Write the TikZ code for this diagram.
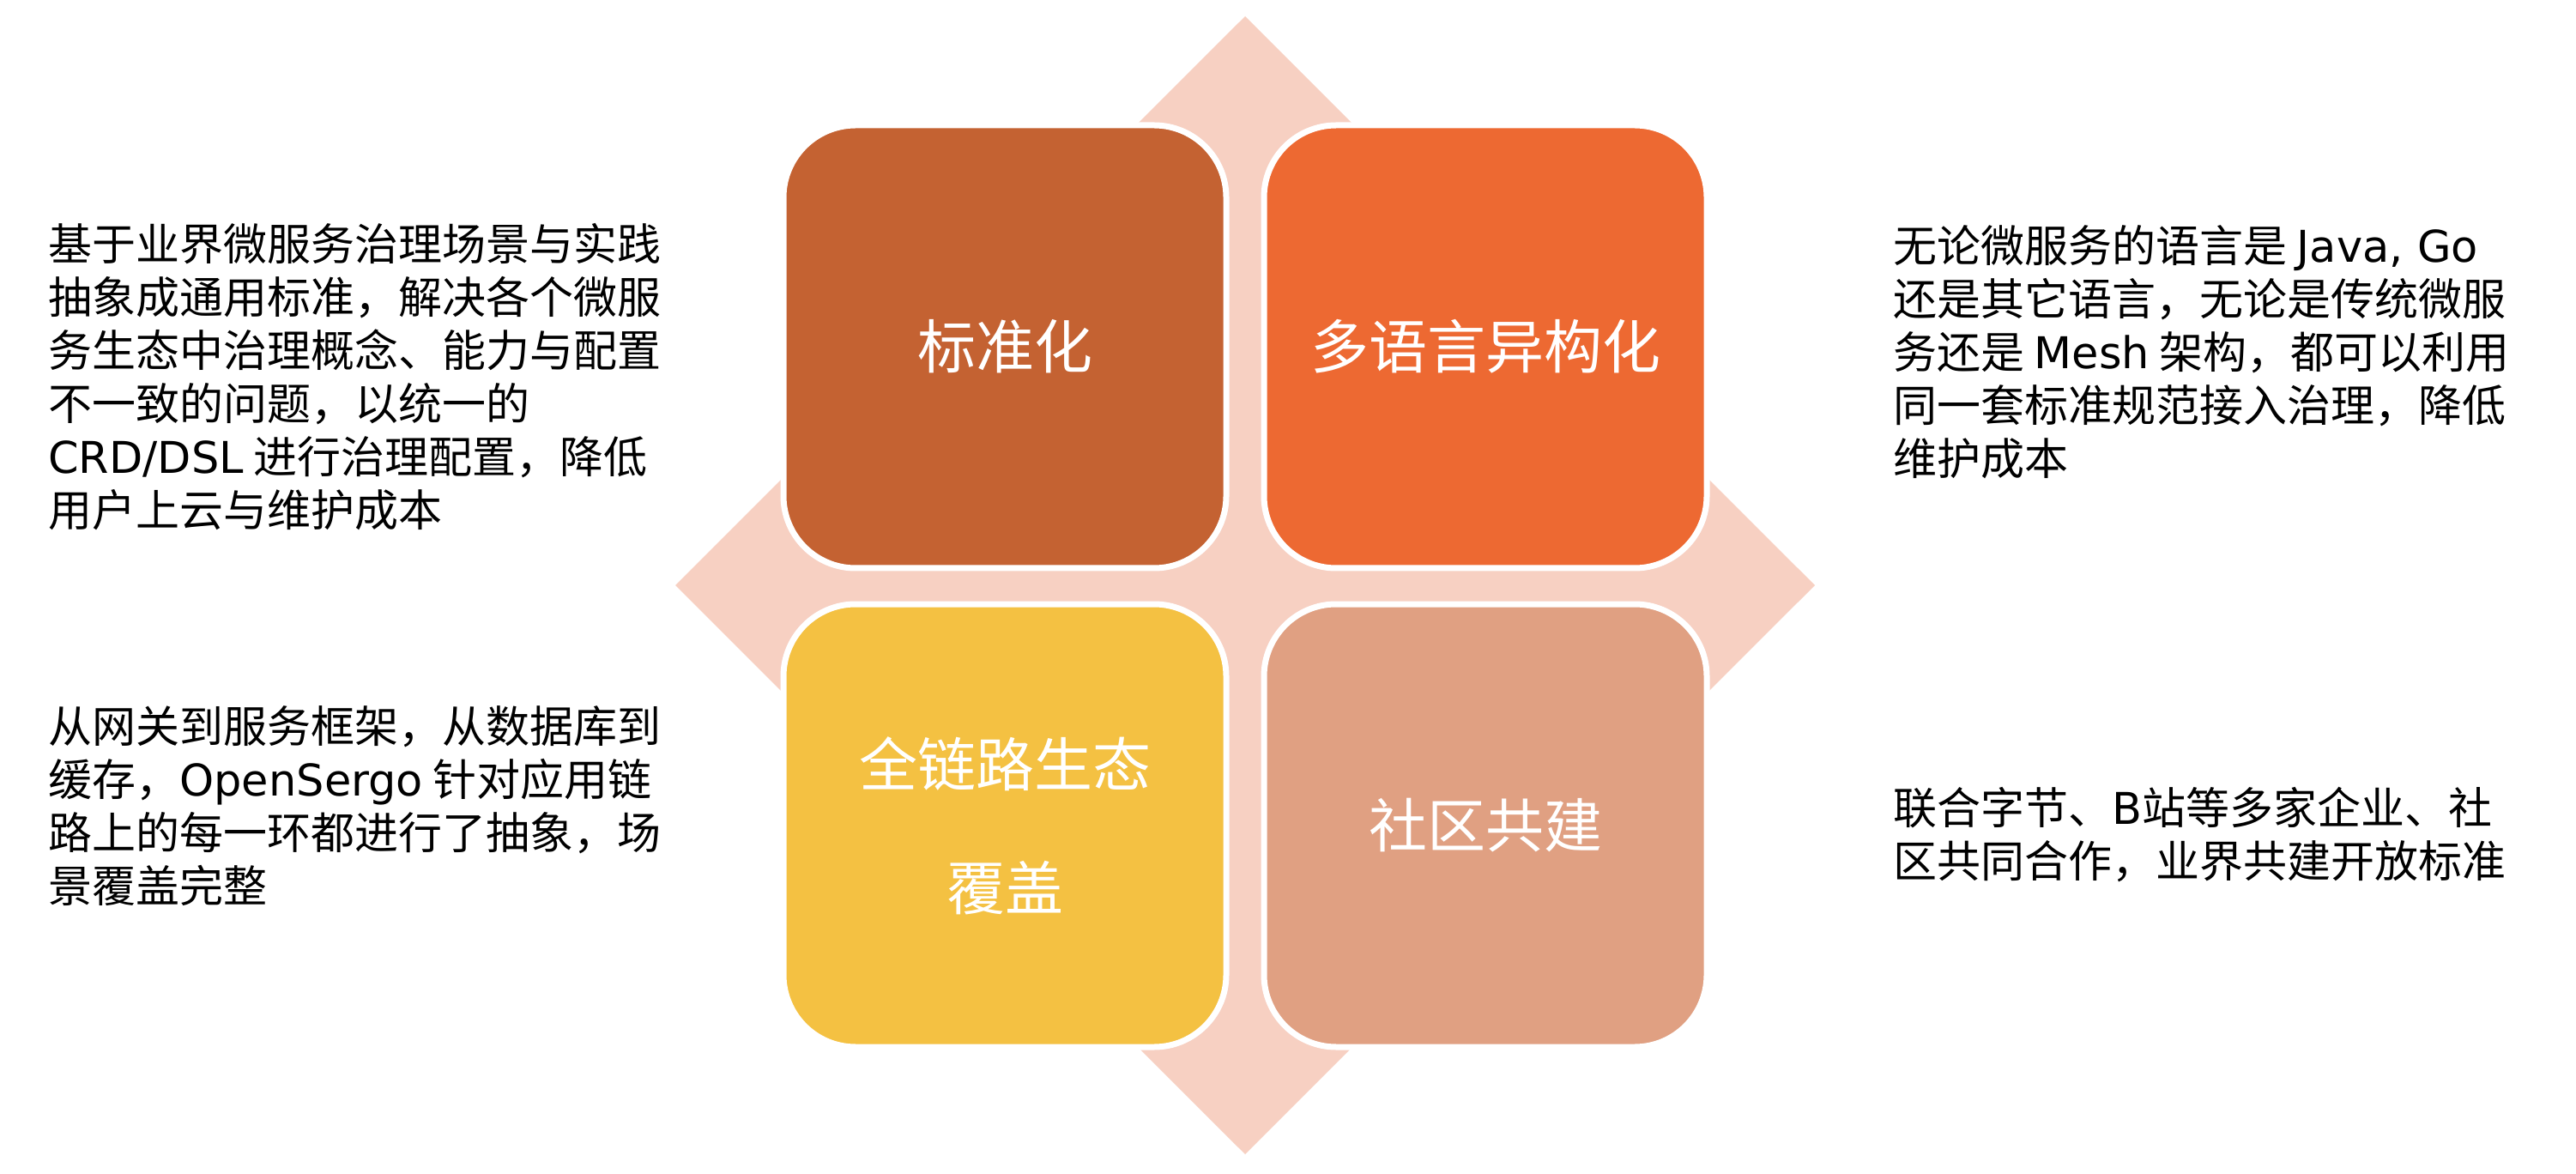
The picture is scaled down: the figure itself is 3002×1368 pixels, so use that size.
\documentclass[tikz,border=0pt]{standalone}
\usepackage{fontspec}
\setmainfont{Noto Sans CJK SC}
\newfontfamily\lat{DejaVu Sans}
\definecolor{diamondfill}{HTML}{F7D0C2}
\definecolor{tileA}{HTML}{C46232}
\definecolor{tileB}{HTML}{ED6932}
\definecolor{tileC}{HTML}{F4C142}
\definecolor{tileD}{HTML}{E0A082}
\tikzset{
  tile/.style={rectangle, rounded corners=42pt, draw=white, line width=3.5pt,
    minimum width=258pt, minimum height=258pt, inner sep=0pt, text=white,
    align=center, font=\fontsize{34}{72}\selectfont},
  desc/.style={anchor=north west, inner sep=0pt, align=left, text=black,
    font=\fontsize{25.5}{31}\selectfont}
}
\begin{document}
\begin{tikzpicture}[x=0.5pt,y=-0.5pt]
\useasboundingbox (0,0) rectangle (3002,1368);
\fill[diamondfill] (1451,19) -- (2115,682) -- (1451,1345) -- (787,682) -- cycle;
\node[tile, fill=tileA] (std) at (1171,404) {标准化};
\node[tile, fill=tileB] (lang) at (1731,404) {多语言异构化};
\node[tile, fill=tileC] (eco) at (1171,962) {全链路生态\\覆盖};
\node[tile, fill=tileD] (comm) at (1731,962) {社区共建};
\node[desc] (dstd) at (56,260) {基于业界微服务治理场景与实践\\抽象成通用标准，解决各个微服\\务生态中治理概念、能力与配置\\不一致的问题，以统一的\\{\lat CRD/DSL} 进行治理配置，降低\\用户上云与维护成本};
\node[desc] (deco) at (56,822) {从网关到服务框架，从数据库到\\缓存，{\lat OpenSergo} 针对应用链\\路上的每一环都进行了抽象，场\\景覆盖完整};
\node[desc] (dlang) at (2206,262) {无论微服务的语言是 {\lat Java, Go}\\还是其它语言，无论是传统微服\\务还是 {\lat Mesh} 架构，都可以利用\\同一套标准规范接入治理，降低\\维护成本};
\node[desc] (dcomm) at (2206,917) {联合字节、{\lat B}站等多家企业、社\\区共同合作，业界共建开放标准};
\end{tikzpicture}
\end{document}
